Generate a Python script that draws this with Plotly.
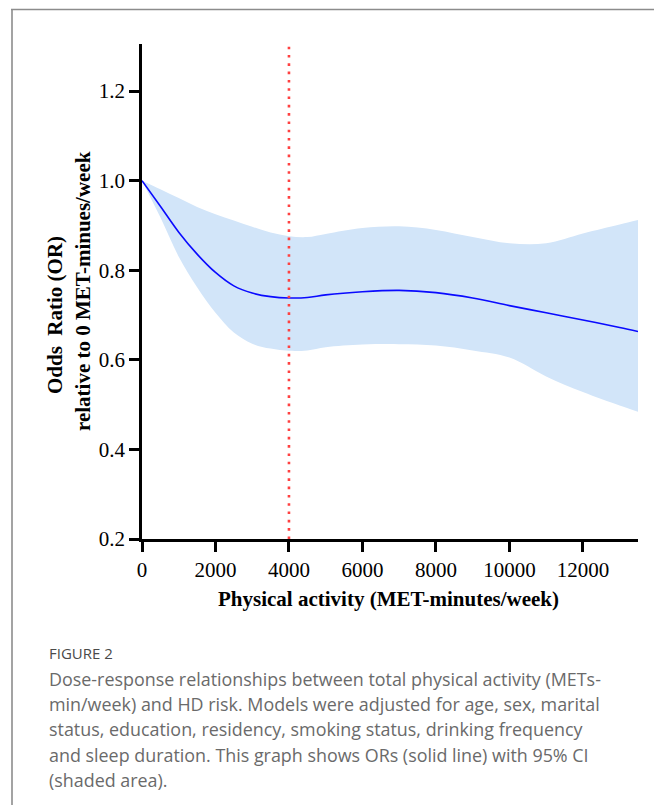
import plotly.graph_objects as go

# ---- data ----
pa_x = [0, 500, 1000, 1500, 2000, 2500, 3000, 3500, 4000, 4500, 5000, 6000,
        7000, 8000, 9000, 10000, 11000, 12000, 13000, 13500]
or_mid = [1.0, 0.943, 0.885, 0.836, 0.795, 0.765, 0.749, 0.741, 0.738, 0.739,
          0.745, 0.752, 0.755, 0.750, 0.738, 0.721, 0.705, 0.689, 0.672, 0.663]
or_upper = [1.0, 0.981, 0.961, 0.941, 0.925, 0.911, 0.897, 0.884, 0.876, 0.874,
            0.881, 0.894, 0.898, 0.890, 0.874, 0.860, 0.860, 0.882, 0.902, 0.912]
or_lower = [1.0, 0.918, 0.830, 0.762, 0.705, 0.661, 0.636, 0.625, 0.620, 0.621,
            0.628, 0.634, 0.635, 0.632, 0.621, 0.605, 0.563, 0.528, 0.498, 0.484]
ref_x = 4000
x_ticks = [0, 2000, 4000, 6000, 8000, 10000, 12000]
x_tick_labels = ["0", "2000", "4000", "6000", "8000", "10000", "12000"]
y_ticks = [0.2, 0.4, 0.6, 0.8, 1.0, 1.2]
y_tick_labels = ["0.2", "0.4", "0.6", "0.8", "1.0", "1.2"]
x_range = [0, 13500]
y_range = [0.2, 1.305]

caption_head = "FIGURE 2"
caption_lines = [
    "Dose-response relationships between total physical activity (METs-",
    "min/week) and HD risk. Models were adjusted for age, sex, marital",
    "status, education, residency, smoking status, drinking frequency",
    "and sleep duration. This graph shows ORs (solid line) with 95% CI",
    "(shaded area).",
]

# ---- layout geometry (pixels) ----
W, H = 654, 805
L, R, T, B = 142, 16, 44, 266
PW, PH = W - L - R, H - T - B


def px(xp):
    return (xp - L) / PW


def py(yp):
    return (H - B - yp) / PH


fig = go.Figure()
fig.add_trace(go.Scatter(x=pa_x, y=or_upper, mode="lines",
                         line=dict(width=0, shape="spline", color="rgba(0,0,0,0)"),
                         hoverinfo="skip", showlegend=False))
fig.add_trace(go.Scatter(x=pa_x, y=or_lower, mode="lines", fill="tonexty",
                         fillcolor="rgb(210,229,249)",
                         line=dict(width=0, shape="spline", color="rgba(0,0,0,0)"),
                         hoverinfo="skip", showlegend=False))
fig.add_trace(go.Scatter(x=pa_x, y=or_mid, mode="lines",
                         line=dict(width=1.6, shape="spline", color="#0a0aff"),
                         showlegend=False))
fig.add_trace(go.Scatter(x=[ref_x, ref_x], y=y_range, mode="lines",
                         line=dict(width=2.6, color="#ff4040", dash="2.6px,5.7px"),
                         showlegend=False))

serif = "Liberation Serif, Times New Roman, serif"
axis_common = dict(showline=True, linecolor="black", linewidth=2.6,
                   ticks="outside", ticklen=10, tickwidth=2.6, tickcolor="black",
                   showgrid=False, zeroline=False,
                   tickfont=dict(family=serif, size=21, color="black"))

fig.update_xaxes(range=x_range, tickvals=x_ticks, ticktext=x_tick_labels, **axis_common)
fig.update_yaxes(range=y_range, tickvals=y_ticks, ticktext=y_tick_labels, **axis_common)

annotations = [
    dict(text="<b>Physical activity (MET-minutes/week)</b>", x=px(388), y=py(599),
         xref="paper", yref="paper", showarrow=False, xanchor="center", yanchor="middle",
         font=dict(family=serif, size=21, color="black")),
    dict(text="<b>Odds  Ratio (OR)</b>", x=px(55), y=py(315),
         xref="paper", yref="paper", showarrow=False, textangle=-90,
         xanchor="center", yanchor="middle",
         font=dict(family=serif, size=21, color="black")),
    dict(text="<b>relative to 0 MET-minues/week</b>", x=px(83), y=py(291),
         xref="paper", yref="paper", showarrow=False, textangle=-90,
         xanchor="center", yanchor="middle",
         font=dict(family=serif, size=21, color="black")),
    dict(text=caption_head, x=px(47), y=py(653), xref="paper", yref="paper",
         showarrow=False, xanchor="left", yanchor="middle",
         font=dict(family="Open Sans, sans-serif", size=15, color="#4a4a4a")),
]
for i, line in enumerate(caption_lines):
    annotations.append(dict(text=line, x=px(47), y=py(679 + i * 25.2),
                            xref="paper", yref="paper", showarrow=False,
                            xanchor="left", yanchor="middle",
                            font=dict(family="Open Sans, sans-serif", size=17.9,
                                      color="#6a6a6a")))

shapes = [
    dict(type="line", xref="paper", yref="paper", x0=px(11), x1=px(W + 2),
         y0=py(9.5), y1=py(9.5), line=dict(color="#8c8c8c", width=1.6)),
    dict(type="line", xref="paper", yref="paper", x0=px(12), x1=px(12),
         y0=py(9.5), y1=py(H + 2), line=dict(color="#8c8c8c", width=1.6)),
]

fig.update_layout(width=W, height=H, margin=dict(l=L, r=R, t=T, b=B),
                  paper_bgcolor="white", plot_bgcolor="white",
                  annotations=annotations, shapes=shapes, showlegend=False)

fig.write_html("out.html")
